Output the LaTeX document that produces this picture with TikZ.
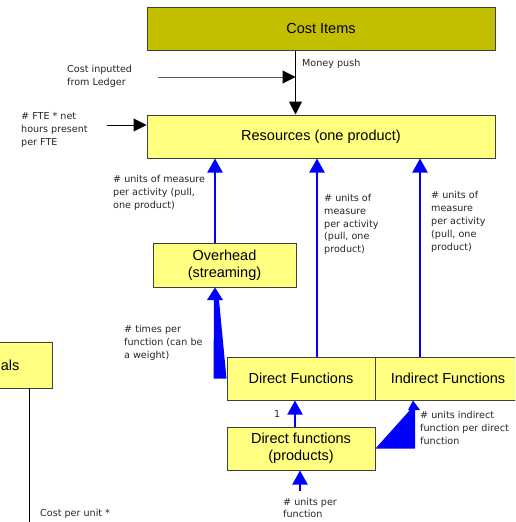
\documentclass[tikz,border=0pt]{standalone}
\usepackage{fontspec}
\setmainfont{Liberation Sans}
\newfontfamily\lblfont{DejaVu Sans}
\usetikzlibrary{arrows.meta,calc}
\definecolor{boxyellow}{RGB}{255,255,128}
\definecolor{costolive}{RGB}{196,190,0}
\definecolor{boxline}{RGB}{64,64,64}
\definecolor{pullblue}{RGB}{0,0,255}
\tikzset{
  box/.style={draw=boxline, line width=1pt, fill=boxyellow, minimum height=43pt,
    inner sep=0pt, align=center, font=\fontsize{14.5}{17}\selectfont},
  lbl/.style={anchor=north west, inner sep=0pt, align=left,
    font=\lblfont\fontsize{9.6}{12.8}\selectfont, text=black!85},
  pushline/.style={line width=1pt, -{Triangle[width=13pt,length=13pt,color=black]}},
  pullline/.style={draw=pullblue, line width=2pt, -{Triangle[width=15pt,length=14pt]}}
}
\begin{document}
\begin{tikzpicture}[x=1pt,y=-1pt]
\useasboundingbox (0,0) rectangle (515,522);
\clip (0,0) rectangle (515,522);
\fill[white] (0,0) rectangle (515,522);

% boxes
\node[box, fill=costolive, minimum width=348pt] (cost) at (321,28.5) {Cost Items};
\node[box, minimum width=348pt] (res) at (321,136.5) {Resources (one product)};
\node[box, minimum width=143pt, minimum height=44pt] (ov) at (224.5,265) {Overhead\\(streaming)};
\node[box, minimum width=148pt] (df) at (301,378.5) {Direct Functions};
\node[box, minimum width=146pt] (if) at (448,378.5) {Indirect Functions};
\node[box, minimum width=148pt] (dfp) at (301,448.5) {Direct functions\\(products)};
\draw[boxline, line width=1pt, fill=boxyellow] (-5,342) rectangle (52,388);
\node[anchor=east, inner sep=0pt, font=\fontsize{14.5}{17}\selectfont] (mat) at (19.5,365) {als};

% black push arrows
\coordinate (mp) at (295.5,77);
\coordinate (ledger) at (158,77);
\coordinate (fte) at (107,125);
\draw[pushline] (cost.south -| mp) -- (res.north -| mp);
\draw[pushline, draw=black!65] (ledger) -- (mp);
\draw[pushline] (fte) -- (fte -| res.west);

% left vertical line
\coordinate (matdown) at (29,530);
\draw[line width=1pt] (matdown |- 0,388) -- (matdown);

% blue pull arrows
\draw[pullline] (ov.north -| 215,0) -- (res.south -| 215,0);
\draw[pullline] (df.north -| 317,0) -- (res.south -| 317,0);
\draw[pullline] (if.north -| 420,0) -- (res.south -| 420,0);
\draw[pullline] (dfp.north -| 295,0) -- (df.south -| 295,0);
\coordinate (unitsin) at (300,491);
\draw[pullline] (unitsin) -- (dfp.south -| unitsin);

% wedge from Direct Functions to Overhead
\fill[pullblue] ($(df.west)+(-13,0)$) -- (214,300) -- (207,300) -- (ov.south -| 215,0)
  -- (223,300) -- (219,300) -- (df.west) -- cycle;
% wedge from Direct functions (products) to Indirect Functions
\fill[pullblue] (dfp.east) -- (410,410) -- (408,410) -- (if.south -| 413,0)
  -- (420,410) -- (415,410) -- (415,448.5) -- cycle;

% labels
\node[lbl] (l1) at (67,65.5) {Cost inputted\\from Ledger};
\node[lbl] (l2) at (302,59) {Money push};
\node[lbl] (l3) at (21,112.5) {\# FTE * net\\hours present\\per FTE};
\node[lbl] (l4) at (113,175) {\# units of measure\\per activity (pull,\\one product)};
\node[lbl] (l5) at (324,194) {\# units of\\measure\\per activity\\(pull, one\\product)};
\node[lbl] (l6) at (431,191.5) {\# units of\\measure\\per activity\\(pull, one\\product)};
\node[lbl] (l7) at (124,325.5) {\# times per\\function (can be\\a weight)};
\node[lbl] (l8) at (274,410) {1};
\node[lbl] (l9) at (420,411.5) {\# units indirect\\function per direct\\function};
\node[lbl] (l10) at (283,497.5) {\# units per\\function};
\node[lbl] (l11) at (40,508.5) {Cost per unit *};
\end{tikzpicture}
\end{document}
